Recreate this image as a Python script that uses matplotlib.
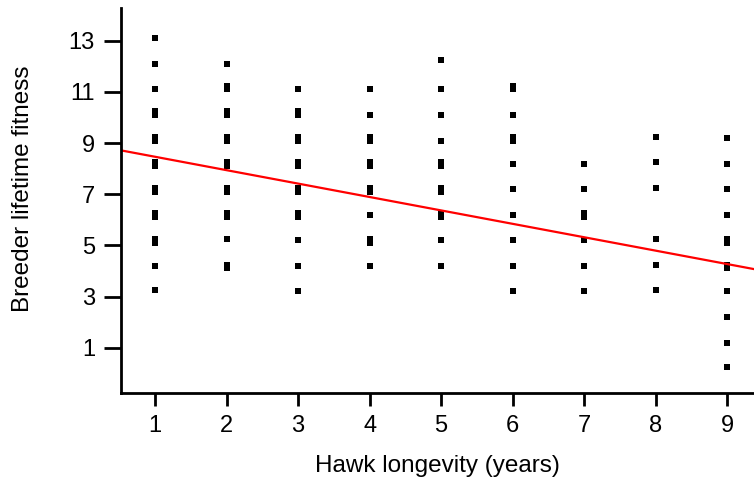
import numpy as np
import matplotlib.pyplot as plt

plt.rcParams['font.family'] = ['Liberation Sans', 'DejaVu Sans']

# Breeder lifetime fitness, one list per hawk longevity class
hawk_years = [1, 2, 3, 4, 5, 6, 7, 8, 9]
fit_1 = [13.1, 12.1, 11.1, 10.1, 10.25, 9.1, 9.25, 8.1, 8.25, 7.1, 7.25,
         6.1, 6.25, 5.1, 5.25, 4.2, 3.25]
fit_2 = [12.1, 11.1, 11.25, 10.1, 10.25, 9.1, 9.25, 8.1, 8.25, 7.1, 7.25,
         6.1, 6.25, 5.25, 4.1, 4.25]
fit_3 = [11.1, 10.1, 10.25, 9.1, 9.25, 8.1, 8.25, 7.1, 7.25, 6.1, 6.25,
         5.2, 4.2, 3.2]
fit_4 = [11.1, 10.1, 9.1, 9.25, 8.1, 8.25, 7.1, 7.25, 6.2, 5.1, 5.25, 4.2]
fit_5 = [12.25, 11.1, 10.1, 9.1, 8.1, 8.25, 7.1, 7.25, 6.1, 6.25, 5.2, 4.2]
fit_6 = [11.1, 11.25, 10.1, 9.1, 9.25, 8.2, 7.2, 6.2, 5.2, 4.2, 3.2]
fit_7 = [8.2, 7.2, 6.1, 6.25, 5.2, 4.2, 3.2]
fit_8 = [9.25, 8.25, 7.25, 5.25, 4.25, 3.25]
fit_9 = [9.2, 8.2, 7.2, 6.2, 5.1, 5.25, 4.1, 4.25, 3.2, 2.2, 1.2, 0.25]

# regression line
fit_intercept = 8.99
fit_slope = -0.524

x_ticks = [1, 2, 3, 4, 5, 6, 7, 8, 9]
y_ticks = [1, 3, 5, 7, 9, 11, 13]

columns = [fit_1, fit_2, fit_3, fit_4, fit_5, fit_6, fit_7, fit_8, fit_9]
xs = np.concatenate([[yr] * len(c) for yr, c in zip(hawk_years, columns)])
ys = np.concatenate(columns)

fig = plt.figure(figsize=(7.54, 4.87), dpi=100)
ax = fig.add_axes([0.160, 0.192, 0.840, 0.792])

ax.plot(xs, ys, 's', color='black', markersize=3.7, markeredgewidth=0)

xlim = (0.517, 9.378)
line_x = np.array(xlim)
ax.plot(line_x, fit_intercept + fit_slope * line_x, color='#ff0000', lw=1.6)

ax.set_xlim(*xlim)
ax.set_ylim(-0.787, 14.29)
ax.set_xticks(x_ticks)
ax.set_yticks(y_ticks)

for side in ['top', 'right']:
    ax.spines[side].set_visible(False)
for side in ['left', 'bottom']:
    ax.spines[side].set_linewidth(2)

ax.tick_params(axis='x', length=9.5, width=2, pad=6, labelsize=17)
ax.tick_params(axis='y', length=12.5, width=2, pad=6, labelsize=17)

ax.set_xlabel('Hawk longevity (years)', fontsize=17.5, labelpad=13)
ax.set_ylabel('Breeder lifetime fitness', fontsize=17.5)
ax.yaxis.set_label_coords(-0.137, 0.53)

fig.savefig('out.png', dpi=100)
